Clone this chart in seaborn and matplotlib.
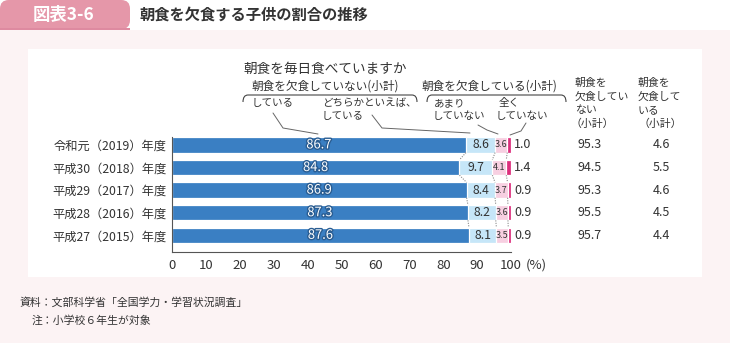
import matplotlib
matplotlib.use("Agg")
import matplotlib.pyplot as plt
import seaborn as sns
import numpy as np
import pandas as pd
from matplotlib.patches import Rectangle, PathPatch, FancyBboxPatch
from matplotlib.path import Path
from matplotlib.lines import Line2D
import matplotlib.patheffects as pe
import matplotlib.transforms as mtransforms

# ---------------- data ----------------
years = ["令和元（2019）年度", "平成30（2018）年度", "平成29（2017）年度",
         "平成28（2016）年度", "平成27（2015）年度"]
eat = [86.7, 84.8, 86.9, 87.3, 87.6]          # している
rather_eat = [8.6, 9.7, 8.4, 8.2, 8.1]        # どちらかといえば、している
rarely = [3.6, 4.1, 3.7, 3.6, 3.5]            # あまりしていない
never = [1.0, 1.4, 0.9, 0.9, 0.9]             # 全くしていない
not_skip_total = [95.3, 94.5, 95.3, 95.5, 95.7]
skip_total = [4.6, 5.5, 4.6, 4.5, 4.4]
xticks = [0, 10, 20, 30, 40, 50, 60, 70, 80, 90, 100]

c_dark = "#3a7fc3"
c_light = "#c6e6f8"
c_pink = "#f7cfe1"
c_mag = "#dc2e7c"
c_text = "#333333"

sns.set_theme(style="white")
plt.rcParams["font.family"] = ["Noto Sans CJK JP", "DejaVu Sans"]

W, H = 730, 343
fig = plt.figure(figsize=(W / 100, H / 100), dpi=100)
fig.patch.set_facecolor("white")


def P(x, y):
    return (x / W, 1 - y / H)


def rect(x0, y0, x1, y1, color, z=0):
    (a, b) = P(x0, y1)
    r = Rectangle((a, b), (x1 - x0) / W, (y1 - y0) / H, transform=fig.transFigure,
                  facecolor=color, edgecolor="none", zorder=z)
    fig.add_artist(r)


# background panels
rect(0, 30, W, H, "#fcf3f4", z=-10)
rect(28, 49, 702, 277, "white", z=-9)
hb = FancyBboxPatch(P(0, 29), 130 / W, 29 / H, boxstyle="round,pad=0,rounding_size=0.012",
                    transform=fig.transFigure, facecolor="#e597a9", edgecolor="none",
                    zorder=-8, mutation_aspect=W / H)
fig.add_artist(hb)
rect(0, 10, 20, 29, "#e597a9", z=-8)
rect(0, 28, 130, 30, "#de8aa0", z=-7)
fig.text(*P(64, 15), "図表3-6", color="white", fontsize=12.5, fontweight="bold",
         ha="center", va="center")
fig.text(*P(140, 15), "朝食を欠食する子供の割合の推移", color=c_text, fontsize=11,
         fontweight="bold", ha="left", va="center")

# ---------------- axes ----------------
ax_top, ax_bot = 137, 252
ax = fig.add_axes([172 / W, 1 - ax_bot / H, (511 - 172) / W, (ax_bot - ax_top) / H])
ax.set_facecolor("none")

df = pd.DataFrame({"year": years, "eat": eat, "rather": rather_eat,
                   "rarely": rarely, "never": never})
df["c1"] = df["eat"]
df["c2"] = df["eat"] + df["rather"]
df["c3"] = df["c2"] + df["rarely"]
df["c4"] = df["c3"] + df["never"]

bw = 0.68
for col, color in [("c4", c_mag), ("c3", c_pink), ("c2", c_light), ("c1", c_dark)]:
    sns.barplot(data=df, x=col, y="year", order=years, color=color, width=bw,
                orient="h", ax=ax, edgecolor="white", linewidth=0.9, saturation=1)

ax.set_xlim(0, 100)
ax.set_ylim(4.74, -0.35)
ax.set_xlabel("")
ax.set_ylabel("")
ax.set_xticks(xticks)
ax.set_xticklabels([str(t) for t in xticks], fontsize=9.5, color=c_text)
ax.tick_params(axis="x", direction="in", length=6, width=0.8, color="#555555", pad=5)
ax.tick_params(axis="y", length=0, pad=4, labelsize=8.8, labelcolor=c_text)
for s in ["top", "right"]:
    ax.spines[s].set_visible(False)
for s in ["left", "bottom"]:
    ax.spines[s].set_color("#555555")
    ax.spines[s].set_linewidth(0.8)
ax.text(104.3, -0.115, "(%)", transform=mtransforms.blended_transform_factory(ax.transData, ax.transAxes),
        fontsize=9.5, color=c_text, ha="left", va="center", clip_on=False)

# segment labels
for i in range(len(years)):
    ax.text(df.c1[i] / 2, i, f"{eat[i]:.1f}", ha="center", va="center", fontsize=9.3,
            color="white", path_effects=[pe.withStroke(linewidth=2, foreground="#2a5d92")])
    ax.text((df.c1[i] + df.c2[i]) / 2, i, f"{rather_eat[i]:.1f}", ha="center", va="center",
            fontsize=8.8, color=c_text)
    ax.text((df.c2[i] + df.c3[i]) / 2, i, f"{rarely[i]:.1f}", ha="center", va="center",
            fontsize=6.5, color=c_text)
    ax.text(101.0, i, f"{never[i]:.1f}", ha="left", va="center", fontsize=9, color=c_text,
            clip_on=False)

# dotted connectors between rows
for i in range(len(years) - 1):
    for col in ["c1", "c2", "c3"]:
        ax.plot([df[col][i], df[col][i + 1]], [i + bw / 2, i + 1 - bw / 2], color="#8a8a8a",
                linestyle=(0, (1, 1.2)), linewidth=0.8, zorder=5)

# right-hand columns
bt = mtransforms.blended_transform_factory(fig.transFigure, ax.transData)
for i in range(len(years)):
    fig.text(590 / W, i, f"{not_skip_total[i]:.1f}", transform=bt, ha="center", va="center",
             fontsize=9, color=c_text)
    fig.text(661 / W, i, f"{skip_total[i]:.1f}", transform=bt, ha="center", va="center",
             fontsize=9, color=c_text)

hdr_fs = 7.8
for y, t in zip([83, 97, 110, 124], ["朝食を", "欠食してい", "ない", "（小計）"]):
    fig.text(*P(575 if t != "（小計）" else 571, y), t, fontsize=hdr_fs, color=c_text, ha="left", va="center")
for y, t in zip([83, 97, 110, 124], ["朝食を", "欠食して", "いる", "（小計）"]):
    fig.text(*P(638, y), t, fontsize=hdr_fs, color=c_text, ha="left", va="center")

# top annotation
fig.text(*P(243, 69), "朝食を毎日食べていますか", fontsize=9.8, color=c_text, ha="left", va="center")
fig.text(*P(252, 86), "朝食を欠食していない(小計)", fontsize=8.4, color=c_text, ha="left", va="center")
fig.text(*P(422, 86), "朝食を欠食している(小計)", fontsize=8.4, color=c_text, ha="left", va="center")


def bracket(x0, x1, y0=95, drop=7, r=5):
    verts = [P(x0, y0 + drop), P(x0, y0), P(x0 + r, y0), P(x1 - r, y0), P(x1, y0), P(x1, y0 + drop)]
    codes = [Path.MOVETO, Path.CURVE3, Path.CURVE3, Path.LINETO, Path.CURVE3, Path.CURVE3]
    fig.add_artist(PathPatch(Path(verts, codes), transform=fig.transFigure, facecolor="none",
                             edgecolor="#444444", linewidth=0.8))


bracket(243, 417)
bracket(427, 566)

sfs = 7.6
fig.text(*P(252, 103), "している", fontsize=sfs, color=c_text, ha="left", va="center")
fig.text(*P(322, 103), "どちらかといえば、", fontsize=sfs, color=c_text, ha="left", va="center")
fig.text(*P(322, 116), "している", fontsize=sfs, color=c_text, ha="left", va="center")
fig.text(*P(434, 103), "あまり", fontsize=sfs, color=c_text, ha="left", va="center")
fig.text(*P(433, 116), "していない", fontsize=sfs, color=c_text, ha="left", va="center")
fig.text(*P(499, 103), "全く", fontsize=sfs, color=c_text, ha="left", va="center")
fig.text(*P(496, 116), "していない", fontsize=sfs, color=c_text, ha="left", va="center")


def leader(pts):
    xs = [P(x, y)[0] for x, y in pts]
    ys = [P(x, y)[1] for x, y in pts]
    fig.add_artist(Line2D(xs, ys, transform=fig.transFigure, color="#666666", linewidth=0.7))


leader([(273, 113), (283, 128), (318, 134)])
leader([(372, 115), (382, 128), (470, 133)])
leader([(478, 125), (487, 130), (498, 134)])
leader([(526, 123), (521, 131), (510, 135)])

# footnotes
fig.text(*P(20, 303), "資料：文部科学省「全国学力・学習状況調査」", fontsize=7.8, color=c_text,
         ha="left", va="center")
fig.text(*P(32, 320), "注：小学校６年生が対象", fontsize=7.8, color=c_text, ha="left", va="center")

fig.savefig("out.png", dpi=100, facecolor=fig.get_facecolor())
